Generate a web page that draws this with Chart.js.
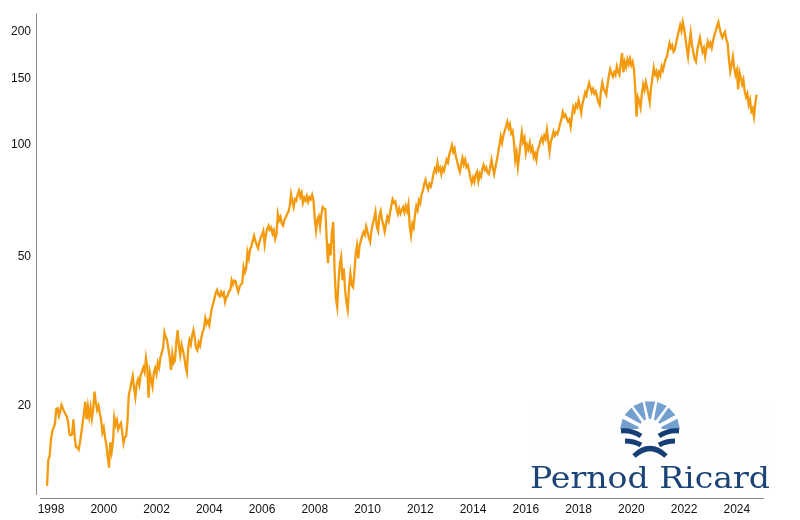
<!DOCTYPE html>
<html>
<head>
<meta charset="utf-8">
<title>Pernod Ricard</title>
<script src="https://cdn.jsdelivr.net/npm/chart.js@4/dist/chart.umd.min.js"></script>
<style>
  html, body { margin: 0; padding: 0; background: #fff; }
  #wrap { position: relative; width: 800px; height: 520px; overflow: hidden; }
  #logo { position: absolute; left: 0; top: 0; pointer-events: none; }
</style>
</head>
<body>
<div id="wrap">
  <canvas id="lineChart" width="800" height="520"></canvas>
  <svg id="logo" width="800" height="520">
    <rect x="530" y="402" width="240" height="88" fill="#fefefe"/>
    <g id="rays" fill="#74a0d0"></g>
    <g fill="none" stroke="#153f75" stroke-width="5">
      <path d="M621 431 Q632 430 641 436"/>
      <path d="M679 431 Q668 430 659 436"/>
      <path d="M625 441 Q634 441 641 445"/>
      <path d="M675 441 Q666 441 659 445"/>
      <path d="M634 456 Q650 441 666 456"/>
    </g>
    <text x="530" y="488" font-family="DejaVu Serif" font-size="30" fill="#1b4376" textLength="240" lengthAdjust="spacingAndGlyphs">Pernod Ricard</text>
  </svg>
</div>
<script>
// y axis and x axis labels
var yTicks = [20, 50, 100, 150, 200];
var xTicks = [1998, 2000, 2002, 2004, 2006, 2008, 2010, 2012, 2014, 2016, 2018, 2020, 2022, 2024];

// share price, one reading every 0.05 year from firstDate
var firstDate = 1997.85;
var stepYears = 0.05;
var prices = [
  12.15, 14.3, 14.6, 16.2, 17.0, 17.4, 17.8, 19.5, 19.6, 18.7, 19.2, 20.0, 19.6, 19.2, 18.9, 18.6, 18.0, 16.7, 16.6, 16.7,
  18.3, 16.4, 15.4, 15.4, 15.2, 15.9, 16.8, 17.9, 19.0, 20.4, 18.3, 19.8, 18.6, 19.7, 18.4, 19.5, 21.7, 20.3, 19.4, 19.9,
  19.0, 18.3, 16.9, 17.4, 16.4, 15.6, 14.6, 13.6, 15.9, 15.0, 15.9, 18.5, 17.7, 18.2, 17.2, 17.6, 17.9, 17.0, 15.8, 16.4,
  16.5, 18.1, 21.3, 22.0, 23.0, 23.9, 22.2, 21.0, 22.8, 23.4, 22.6, 24.0, 24.6, 25.2, 24.5, 26.7, 25.3, 20.9, 24.4, 23.4,
  22.4, 24.4, 25.1, 24.2, 25.9, 25.2, 26.8, 27.6, 28.4, 31.3, 30.4, 29.8, 28.3, 26.8, 24.8, 27.4, 25.9, 26.3, 29.4, 31.7,
  28.8, 27.2, 29.0, 28.0, 27.0, 25.4, 24.5, 28.2, 29.8, 29.0, 30.6, 31.7, 30.3, 28.4, 28.0, 29.4, 28.8, 30.2, 31.4, 32.0,
  34.1, 33.0, 33.6, 32.7, 34.6, 36.3, 37.4, 38.6, 40.0, 40.6, 39.4, 39.0, 40.1, 39.3, 39.9, 37.7, 38.9, 39.2, 40.3, 40.6,
  43.1, 42.0, 43.0, 42.8, 41.2, 40.1, 41.4, 42.0, 42.3, 46.7, 45.2, 46.3, 51.2, 49.3, 52.2, 53.2, 55.0, 56.7, 54.8, 53.6,
  52.5, 54.6, 55.9, 57.0, 58.4, 53.8, 57.2, 59.0, 60.3, 58.8, 59.6, 57.4, 58.6, 55.6, 57.3, 64.8, 62.4, 63.6, 61.0, 60.3,
  62.6, 63.4, 64.8, 65.6, 68.0, 73.2, 70.0, 67.6, 71.0, 70.3, 73.0, 74.8, 72.0, 73.8, 69.4, 71.6, 70.4, 72.4, 69.9, 71.8,
  70.9, 72.9, 70.6, 63.0, 58.5, 62.6, 63.9, 59.9, 64.5, 67.6, 67.0, 66.8, 56.0, 47.9, 54.0, 50.2, 58.0, 61.7, 46.0, 38.6,
  36.6, 42.8, 47.6, 49.7, 43.1, 46.4, 40.6, 37.6, 35.9, 41.2, 44.9, 41.8, 41.3, 45.0, 50.6, 53.4, 49.3, 53.5, 55.0, 56.6,
  58.0, 57.0, 60.0, 58.0, 56.0, 54.6, 58.5, 61.0, 63.0, 65.6, 60.0, 58.4, 64.0, 66.0, 62.5, 60.5, 58.1, 61.0, 63.6, 62.0,
  65.0, 68.0, 70.9, 69.4, 70.0, 67.0, 64.8, 67.0, 65.0, 66.4, 67.6, 65.5, 68.0, 66.0, 68.8, 60.0, 56.7, 61.0, 59.6, 64.4,
  68.0, 66.4, 70.5, 69.2, 73.2, 74.8, 78.0, 80.0, 77.0, 75.4, 78.0, 76.8, 79.3, 83.0, 85.5, 84.0, 88.8, 84.8, 86.2, 82.8,
  86.0, 84.5, 87.6, 90.5, 89.0, 93.5, 96.0, 99.0, 95.0, 97.0, 92.5, 89.5, 86.0, 84.0, 88.0, 91.5, 88.0, 90.5, 86.5, 87.6,
  84.5, 81.0, 78.4, 81.0, 79.0, 82.5, 84.0, 79.3, 83.0, 81.5, 85.5, 87.6, 85.0, 86.2, 83.5, 82.8, 86.5, 90.4, 86.0, 82.8,
  86.5, 90.0, 94.4, 99.0, 104.2, 100.4, 105.0, 108.0, 111.0, 114.4, 110.0, 112.5, 106.5, 108.0, 101.0, 90.4, 94.5, 86.6, 93.0, 100.0,
  107.0, 101.0, 103.5, 94.4, 99.0, 96.5, 100.4, 95.5, 97.5, 92.0, 94.0, 90.4, 96.0, 98.0, 101.5, 103.7, 101.0, 105.0, 103.0, 108.9,
  102.0, 95.0, 101.0, 104.0, 107.6, 105.0, 107.0, 106.0, 108.9, 113.0, 116.0, 121.4, 118.0, 119.5, 117.0, 114.5, 116.0, 110.9, 118.0, 125.0,
  122.0, 127.0, 125.0, 130.6, 126.0, 120.7, 128.0, 132.0, 137.0, 134.5, 141.0, 145.3, 141.0, 137.0, 140.0, 136.0, 137.8, 133.5, 129.0, 126.6,
  138.0, 145.3, 140.0, 137.5, 135.0, 144.0, 152.0, 157.9, 154.0, 151.0, 155.0, 152.5, 160.6, 155.5, 152.7, 164.0, 174.5, 154.9, 165.0, 160.0,
  167.8, 163.0, 168.5, 162.0, 165.4, 158.0, 140.0, 118.0, 133.0, 130.0, 125.0, 136.0, 143.6, 139.0, 146.0, 141.0, 135.0, 129.0, 141.0, 150.0,
  159.5, 153.0, 156.0, 149.4, 155.0, 152.0, 160.6, 157.0, 163.0, 168.0, 170.6, 178.0, 185.6, 180.0, 183.0, 176.0, 178.0, 186.0, 193.0, 200.0,
  207.0, 200.0, 211.0, 203.0, 191.8, 180.0, 170.6, 185.0, 197.6, 183.0, 175.0, 168.0, 165.4, 177.0, 185.0, 191.8, 183.0, 176.0, 180.0, 170.6,
  180.0, 187.3, 182.0, 186.0, 180.2, 188.0, 195.0, 200.0, 206.0, 211.0, 203.0, 196.0, 191.8, 196.0, 198.8, 190.0, 185.6, 168.0, 155.8, 162.0,
  170.6, 160.0, 152.7, 157.0, 139.6, 155.0, 150.0, 144.0, 148.0, 137.8, 133.0, 136.0, 127.0, 131.0, 122.0, 124.0, 118.0, 128.0, 135.0
];

// plain axis lines, they do not touch in the corner
var axisLines = {
  id: 'axisLines',
  afterDraw: function (chart) {
    var c = chart.ctx, a = chart.chartArea;
    c.save();
    c.strokeStyle = '#8a8a8a';
    c.lineWidth = 1;
    c.beginPath();
    c.moveTo(a.left - 0.5, a.top);
    c.lineTo(a.left - 0.5, a.bottom - 3);
    c.moveTo(a.left + 3, a.bottom + 0.5);
    c.lineTo(a.right, a.bottom + 0.5);
    c.stroke();
    c.restore();
  }
};

var tickFont = { family: 'Liberation Sans', size: 12 };

var ctxL = document.getElementById('lineChart').getContext('2d');
var myLineChart = new Chart(ctxL, {
  type: 'line',
  data: {
    datasets: [{
      data: prices.map(function (p, i) { return { x: firstDate + i * stepYears, y: p }; }),
      borderColor: '#f39a0e',
      borderWidth: 2.3,
      borderJoinStyle: 'miter',
      pointRadius: 0,
      tension: 0,
      fill: false
    }]
  },
  options: {
    responsive: false,
    animation: false,
    layout: { padding: { top: 13, right: 36, left: 0, bottom: 0 } },
    plugins: { legend: { display: false }, tooltip: { enabled: false } },
    scales: {
      x: {
        type: 'linear',
        min: 1997.47,
        max: 2025.03,
        border: { display: false },
        grid: { display: false, drawTicks: false },
        ticks: {
          autoSkip: false, maxRotation: 0, color: '#111', font: tickFont, padding: 4,
          callback: function (v) { return String(v); }
        },
        afterBuildTicks: function (s) { s.ticks = xTicks.map(function (v) { return { value: v }; }); },
        afterFit: function (s) { s.height = 22; }
      },
      y: {
        type: 'logarithmic',
        min: 11.28,
        max: 223,
        border: { display: false },
        grid: { display: false, drawTicks: false },
        ticks: {
          autoSkip: false, color: '#111', font: tickFont, padding: 6, labelOffset: 1,
          callback: function (v) { return String(v); }
        },
        afterBuildTicks: function (s) { s.ticks = yTicks.map(function (v) { return { value: v }; }); },
        afterFit: function (s) { s.width = 37; }
      }
    }
  },
  plugins: [axisLines]
});

// the sun of the logo
var rayAngles = [-166, -138, -114, -90, -66, -42, -14];
var rayBox = document.getElementById('rays');
rayAngles.forEach(function (deg) {
  var half = 10, r0 = 12, r1 = 30, cx = 650, cy = 431;
  var pt = function (r, d) {
    var t = d * Math.PI / 180;
    return (cx + r * Math.cos(t)).toFixed(1) + ' ' + (cy + r * Math.sin(t)).toFixed(1);
  };
  var p = document.createElementNS('http://www.w3.org/2000/svg', 'path');
  p.setAttribute('d', 'M' + pt(r0, deg - half / 2) + ' L' + pt(r1, deg - half) + ' L' + pt(r1, deg + half) + ' L' + pt(r0, deg + half / 2) + 'Z');
  rayBox.appendChild(p);
});
</script>
</body>
</html>
